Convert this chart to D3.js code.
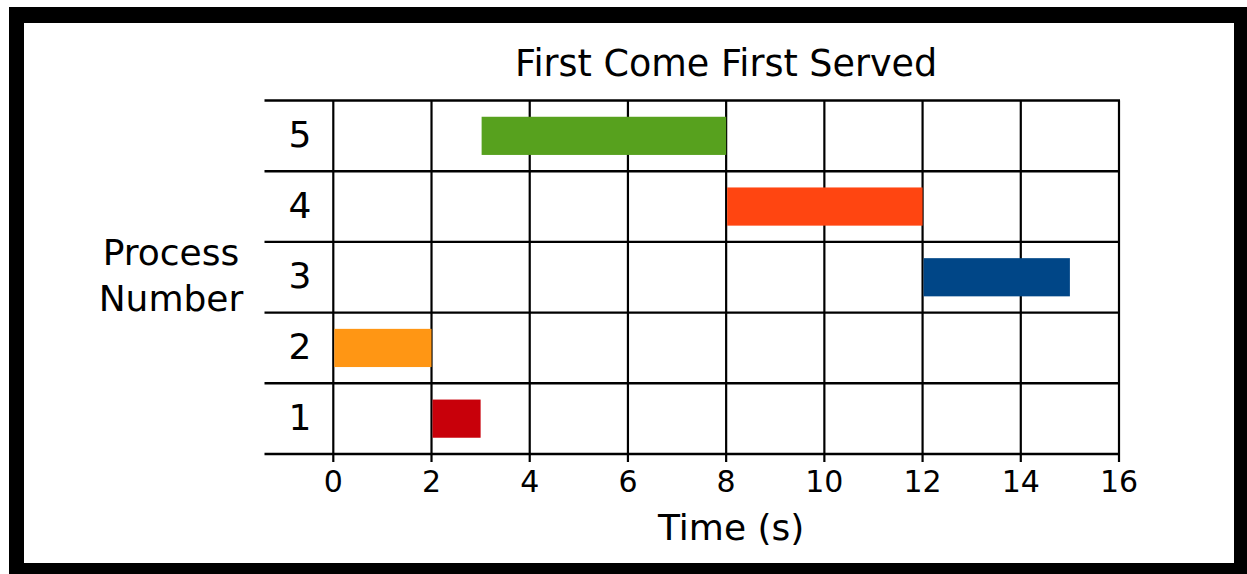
<!DOCTYPE html>
<html>
<head>
<meta charset="utf-8">
<script src="https://cdn.jsdelivr.net/npm/d3@7"></script>
<style>
  body { margin: 0; background: #fff; }
  svg { display: block; font-family: "DejaVu Sans", sans-serif; }
</style>
</head>
<body>
<svg id="chart"></svg>
<script>
// data
var processes = [1, 2, 3, 4, 5];
var starts = [2, 0, 12, 8, 3];
var durations = [1, 2, 3, 4, 5];
var colors = ["#c8000a", "#ff9614", "#004687", "#ff4511", "#57a11e"];
var xTicks = [0, 2, 4, 6, 8, 10, 12, 14, 16];

var width = 1247, height = 574;

var svg = d3.select("#chart")
	.attr("width", width)
	.attr("height", height);

// black frame
svg.append("rect")
	.attr("x", 9).attr("y", 7)
	.attr("width", width - 9).attr("height", height - 7)
	.attr("fill", "#000");
svg.append("rect")
	.attr("x", 24).attr("y", 23)
	.attr("width", 1210).attr("height", 540)
	.attr("fill", "#fff");

var plotLeft = 333.3, plotRight = 1119, plotTop = 100.5, plotBottom = 454;
var lineLeft = 264.5;

var xScale = d3.scaleLinear()
	.domain([0, 16])
	.range([plotLeft, plotRight]);

var yScale = d3.scaleBand()
	.domain(processes.slice().reverse())
	.range([plotTop, plotBottom])
	.padding(0);

var bw = yScale.bandwidth();

// vertical grid lines + x ticks
svg.selectAll("line.vgrid")
	.data(xTicks)
	.enter()
	.append("line")
		.attr("class", "vgrid")
		.attr("x1", function(d) { return xScale(d); })
		.attr("x2", function(d) { return xScale(d); })
		.attr("y1", plotTop)
		.attr("y2", plotBottom + 8)
		.attr("stroke", "#000")
		.attr("stroke-width", 2.2);

// horizontal row separators
var bounds = processes.map(function(d) { return yScale(d); }).concat([plotBottom]);
svg.selectAll("line.hgrid")
	.data(bounds)
	.enter()
	.append("line")
		.attr("class", "hgrid")
		.attr("x1", lineLeft)
		.attr("x2", plotRight + 1)
		.attr("y1", function(d) { return d; })
		.attr("y2", function(d) { return d; })
		.attr("stroke", "#000")
		.attr("stroke-width", 2.4);

// bars (drawn over the grid)
svg.selectAll("rect.bar")
	.data(processes)
	.enter()
	.append("rect")
		.attr("class", "bar")
		.attr("x", function(d, i) { return xScale(starts[i]) + 1; })
		.attr("width", function(d, i) { return xScale(starts[i] + durations[i]) - xScale(starts[i]) - 1; })
		.attr("y", function(d) { return yScale(d) + bw * 0.23; })
		.attr("height", bw * 0.54)
		.attr("fill", function(d, i) { return colors[i]; });

// x tick labels
svg.selectAll("text.xtick")
	.data(xTicks)
	.enter()
	.append("text")
		.attr("class", "xtick")
		.attr("x", function(d) { return xScale(d); })
		.attr("y", 492)
		.attr("text-anchor", "middle")
		.attr("font-size", 30)
		.text(function(d) { return d; });

// y tick labels
svg.selectAll("text.ytick")
	.data(processes)
	.enter()
	.append("text")
		.attr("class", "ytick")
		.attr("x", 300)
		.attr("y", function(d) { return yScale(d) + bw / 2 + 11; })
		.attr("text-anchor", "middle")
		.attr("font-size", 36)
		.text(function(d) { return d; });

// title
svg.append("text")
	.attr("x", (plotLeft + plotRight) / 2)
	.attr("y", 76)
	.attr("text-anchor", "middle")
	.attr("font-size", 36.5)
	.text("First Come First Served");

// x label
svg.append("text")
	.attr("x", (plotLeft + plotRight) / 2 + 5)
	.attr("y", 540)
	.attr("text-anchor", "middle")
	.attr("font-size", 36)
	.text("Time (s)");

// y label
var yl = svg.append("text")
	.attr("text-anchor", "middle")
	.attr("font-size", 36);
yl.append("tspan").attr("x", 171).attr("y", 265).text("Process");
yl.append("tspan").attr("x", 171).attr("y", 311).text("Number");
</script>
</body>
</html>
